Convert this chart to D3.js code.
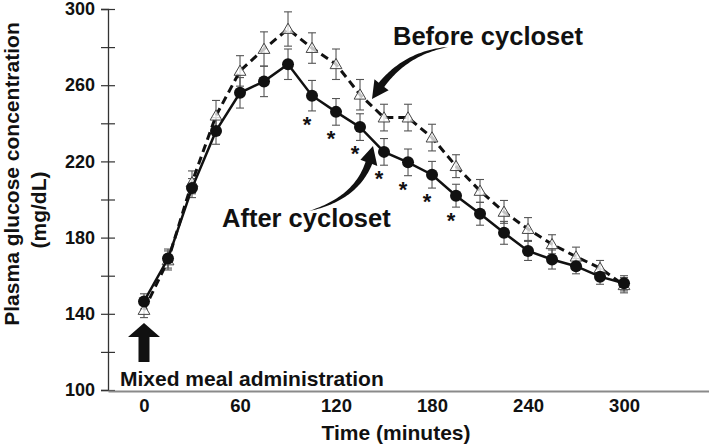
<!DOCTYPE html>
<html><head><meta charset="utf-8">
<script src="https://cdn.jsdelivr.net/npm/d3@7"></script>
<style>
body{margin:0;background:#fff;}
svg text{font-family:"Liberation Sans",Arial,Helvetica,sans-serif;font-weight:bold;fill:#111;}
</style>
</head><body>
<svg id="c" width="709" height="446"></svg>
<script>
// ---- data ----
const times      = [0,15,30,45,60,75,90,105,120,135,150,165,180,195,210,225,240,255,270,285,300];
const beforeMean = [142,168,209,244,267.5,279,289.5,279.5,271,255,243,243,232.5,217.5,204.5,193.5,184.5,176.5,170,164,155];
const beforeSem  = [4,5,6,8,8,9,9,8,8,8,7,7,7,6,6,6,6,5,5,4,4];
const afterMean  = [146.5,169,206,236,256,262,271,254.5,246,238,225,219.5,213,202,192.5,182.5,173,168.5,165,159.5,156];
const afterSem   = [4,5,5,7,8,8,8,8,7,7,7,7,7,6,6,6,5,5,4,4,4];
const starTimes  = [105,120,135,150,165,180,195];
const xTickVals  = [0,60,120,180,240,300];
const yTickVals  = [100,120,140,160,180,200,220,240,260,280,300];
const yLabelVals = [100,140,180,220,260,300];

const svg = d3.select("#c");
const x = d3.scaleLinear().domain([-22.5, 353.1]).range([108, 709]);
const y = d3.scaleLinear().domain([100, 300]).range([390, 9]);

// ---- y axis ----
const yAxis = d3.axisLeft(y).tickValues(yTickVals).tickSize(7).tickPadding(6)
  .tickFormat(d => yLabelVals.includes(d) ? d : "");
const gy = svg.append("g").attr("transform","translate(108,0)").call(yAxis);
gy.select(".domain").attr("stroke","#333").attr("stroke-width",1.3);
gy.selectAll(".tick line").attr("stroke","#333").attr("stroke-width",1.2).attr("x2",7).attr("x1",-7);
gy.selectAll(".tick text").style("font-size","18px").attr("fill","#111");

// ---- x axis ----
const xAxis = d3.axisBottom(x).tickValues(xTickVals).tickSize(0).tickPadding(8);
const gx = svg.append("g").attr("transform",`translate(0,${y(100)+1})`).call(xAxis);
gx.select(".domain").attr("stroke","#8a8a8a").attr("stroke-width",2.2);
gx.selectAll(".tick text").style("font-size","18.5px").attr("fill","#111");

// ---- titles ----
svg.append("text").attr("transform","translate(11,174) rotate(-90)")
  .attr("text-anchor","middle").attr("dominant-baseline","central")
  .style("font-size","21px").text("Plasma glucose concentration");
svg.append("text").attr("transform","translate(38,210) rotate(-90)")
  .attr("text-anchor","middle").attr("dominant-baseline","central")
  .style("font-size","21px").text("(mg/dL)");
svg.append("text").attr("x",396).attr("y",440).attr("text-anchor","middle")
  .style("font-size","21px").text("Time (minutes)");

// ---- series ----
const line = d3.line().x((d,i)=>x(times[i])).y(d=>y(d));

function errorBars(means, sems, cls){
  const g = svg.append("g").attr("class",cls);
  means.forEach((m,i)=>{
    const cx = x(times[i]), y1 = y(m - sems[i]), y2 = y(m + sems[i]);
    g.append("line").attr("x1",cx).attr("x2",cx).attr("y1",y1).attr("y2",y2);
    g.append("line").attr("x1",cx-4).attr("x2",cx+4).attr("y1",y1).attr("y2",y1);
    g.append("line").attr("x1",cx-4).attr("x2",cx+4).attr("y1",y2).attr("y2",y2);
  });
  g.selectAll("line").attr("stroke","#555").attr("stroke-width",1.1);
}

errorBars(beforeMean, beforeSem, "eb-before");
errorBars(afterMean, afterSem, "eb-after");

svg.append("path").datum(beforeMean).attr("d",line)
  .attr("fill","none").attr("stroke","#111").attr("stroke-width",3).attr("stroke-dasharray","8,5");
svg.append("g").selectAll("path").data(beforeMean).join("path")
  .attr("d", d3.symbol().type(d3.symbolTriangle).size(60))
  .attr("transform",(d,i)=>`translate(${x(times[i])},${y(d)+1})`)
  .attr("fill","#fff").attr("fill-opacity",0.75).attr("stroke","#444").attr("stroke-width",1);

svg.append("path").datum(afterMean).attr("d",line)
  .attr("fill","none").attr("stroke","#111").attr("stroke-width",2.5);
svg.append("g").selectAll("circle").data(afterMean).join("circle")
  .attr("cx",(d,i)=>x(times[i])).attr("cy",d=>y(d)).attr("r",6).attr("fill","#111");

// ---- significance stars ----
svg.append("g").selectAll("text").data(starTimes).join("text")
  .attr("x", t => x(t) - 5)
  .attr("y", t => { const i = times.indexOf(t); return y(afterMean[i] - afterSem[i]) + 21; })
  .attr("text-anchor","middle").style("font-size","22px").text("*");

// ---- annotations ----
svg.append("text").attr("x",393).attr("y",45).style("font-size","25.5px").text("Before cycloset");
svg.append("text").attr("x",222).attr("y",227).style("font-size","25.5px").text("After cycloset");
svg.append("text").attr("x",120).attr("y",386).style("font-size","21px").text("Mixed meal administration");

function curvedArrow(p0, p1, p2, maxW, headLen, headHalf){
  const B = t => [ (1-t)*(1-t)*p0[0] + 2*(1-t)*t*p1[0] + t*t*p2[0],
                   (1-t)*(1-t)*p0[1] + 2*(1-t)*t*p1[1] + t*t*p2[1] ];
  const D = t => [ 2*(1-t)*(p1[0]-p0[0]) + 2*t*(p2[0]-p1[0]),
                   2*(1-t)*(p1[1]-p0[1]) + 2*t*(p2[1]-p1[1]) ];
  let tb = 1, acc = 0, prev = B(1);
  for (let t = 1; t >= 0; t -= 0.005){ const p = B(t); acc += Math.hypot(p[0]-prev[0], p[1]-prev[1]); prev = p; if (acc >= headLen){ tb = t; break; } }
  const left = [], right = [];
  const N = 40;
  for (let k = 0; k <= N; k++){
    const t = tb * k / N, p = B(t), d = D(t), L = Math.hypot(d[0],d[1]);
    const nx = -d[1]/L, ny = d[0]/L, w = maxW * Math.pow(k/N, 0.8) / 2;
    left.push([p[0]+nx*w, p[1]+ny*w]); right.push([p[0]-nx*w, p[1]-ny*w]);
  }
  const pb = B(tb), db = D(tb), Lb = Math.hypot(db[0],db[1]);
  const nx = -db[1]/Lb, ny = db[0]/Lb;
  const pts = left.concat([[pb[0]+nx*headHalf, pb[1]+ny*headHalf], p2, [pb[0]-nx*headHalf, pb[1]-ny*headHalf]], right.reverse());
  svg.append("path").attr("d", "M" + pts.map(p=>p.join(",")).join("L") + "Z").attr("fill","#111");
}
curvedArrow([448,47],[398,54],[372,99], 7, 17, 9);
curvedArrow([309,211],[366,196],[373,146], 7, 17, 9);

// big upward arrow at t=0
const ax = x(0);
svg.append("path").attr("d",
  `M${ax-5.5},362 L${ax-5.5},337 L${ax-16},337 L${ax},323 L${ax+16},337 L${ax+5.5},337 L${ax+5.5},362 Z`)
  .attr("fill","#111");
</script>
</body></html>
